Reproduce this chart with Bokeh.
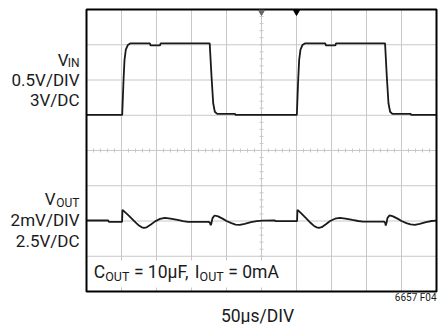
import numpy as np
from bokeh.plotting import figure
from bokeh.models import Label, Range1d, ColumnDataSource
from bokeh.embed import file_html
from bokeh.resources import INLINE

# ---- data (time in µs, 50 µs/div; levels in screen divisions, 8 div tall) ----
vin_t = [0, 51, 52.9, 54.3, 56.2, 59, 63, 90.5, 91.5, 105, 106, 176, 178.6, 181, 183.3, 186.7, 212, 213,
         300.5, 302.4, 303.8, 305.7, 308.5, 312.5, 341, 342, 355.5, 356.5, 426.5, 429, 431.4, 433.7, 437,
         463, 464, 500]
vin_v = [5.01, 5.01, 6.0, 6.57, 6.86, 6.99, 7.04, 7.04, 6.98, 6.98, 7.04, 7.04, 6.1, 5.34, 5.1, 5.04, 5.04, 5.01,
         5.01, 6.0, 6.57, 6.86, 6.99, 7.04, 7.04, 6.98, 6.98, 7.04, 7.04, 6.1, 5.34, 5.1, 5.04,
         5.04, 5.01, 5.01]

vout_t = [0, 31, 32, 50.8, 51.4, 55, 60, 65, 70, 75, 79, 82, 86, 92, 98, 105, 112, 120, 130, 138, 145, 160, 174,
          176, 177.5, 178.5, 180, 183, 188, 195, 200, 207, 213, 219, 226, 235, 243, 251,
          269, 270, 300.8, 301.4, 305, 310, 315, 320, 325, 329, 332, 336, 342, 348, 355, 362, 370, 380, 388,
          395, 410, 425, 426.5, 427.5, 428.5, 430, 433, 438, 445, 450, 457, 463, 469, 476, 485, 493, 500]
vout_v = [2.014, 2.014, 1.976, 1.976, 2.317, 2.25, 2.16, 2.06, 1.96, 1.87, 1.82, 1.806, 1.82, 1.9, 1.99, 2.06,
          2.09, 2.07, 2.03, 1.995, 1.975, 1.975, 1.975,
          1.96, 1.88, 1.94, 2.08, 2.156, 2.13, 2.06, 2.0, 1.94, 1.90, 1.89, 1.92, 1.97, 1.995, 2.01,
          2.014, 1.995, 1.995, 2.317, 2.25, 2.15, 2.05, 1.95, 1.86, 1.82, 1.806, 1.825, 1.91, 2.0, 2.065, 2.09,
          2.07, 2.03, 2.0, 1.985, 1.98, 1.98, 1.96, 1.87, 1.94, 2.09, 2.16, 2.13, 2.06, 2.0, 1.94, 1.905,
          1.89, 1.92, 1.97, 2.0, 2.01]

trig_t = [250, 300]
trig_colors = ["#666666", "#000000"]

x_grid = [50, 100, 150, 200, 250, 300, 350, 400, 450]
y_grid = [1, 2, 3, 4, 5, 6, 7]
T_MAX, V_MAX = 500, 8

FONT = "Roboto"
TXT = "#1a1a1a"
GRID = "#c8c8c8"

# canvas pixel <-> data helpers (plot box: x 86..436 px, y 9..291 px)
def tx(px):
    return (px - 86) / 0.7

def vy(py):
    return (291 - py) / 35.25

W, H = 438, 324
p = figure(width=W, height=H, x_range=Range1d(tx(0), tx(W)), y_range=Range1d(vy(H), vy(0)),
           x_axis_location=None, y_axis_location=None, toolbar_location=None,
           output_backend="svg", min_border=0)
p.background_fill_color = "white"
p.border_fill_color = "white"
p.outline_line_color = None
p.xgrid.visible = False
p.ygrid.visible = False

# grid
p.segment(x0=x_grid, y0=0, x1=x_grid, y1=V_MAX, line_color=GRID, line_width=1)
p.segment(x0=0, y0=y_grid, x1=T_MAX, y1=y_grid, line_color=GRID, line_width=1)

# minor ticks on the centre lines
dx = 2.9    # ~2 px in µs
dy = 0.057  # ~2 px in div
hx = np.arange(10, T_MAX, 10)
p.segment(x0=hx, y0=4 - dy, x1=hx, y1=4 + dy, line_color=GRID, line_width=1)
vv = np.arange(0.2, V_MAX, 0.2)
p.segment(x0=250 - dx, y0=vv, x1=250 + dx, y1=vv, line_color=GRID, line_width=1)

# white box behind the condition text
p.quad(left=[0], right=[tx(289)], bottom=[vy(287)], top=[vy(260)], fill_color="white", line_color=None)

# traces
p.line(vin_t, vin_v, line_color="#1a1a1a", line_width=1.8)
p.line(vout_t, vout_v, line_color="#1a1a1a", line_width=1.8)

# plot box
p.quad(left=[0], right=[T_MAX], bottom=[0], top=[V_MAX], fill_color=None, line_color="black", line_width=2)

# trigger markers
src = ColumnDataSource(dict(x=trig_t, y=[vy(11.5)] * 2, c=trig_colors))
p.scatter("x", "y", source=src, marker="inverted_triangle", size=6, fill_color="c", line_color="c")


def lab(px, py, text, size, align="right", color=TXT):
    # py = vertical centre of the capitals
    p.add_layout(Label(x=tx(px), y=vy(py), text=text, text_font=FONT, text_font_size=f"{size}px",
                       text_align=align, text_baseline="middle", text_color=color))


# VIN labels
lab(68, 59, "V", 17)
lab(79, 62.5, "IN", 12)
lab(79, 79, "0.5V/DIV", 17)
lab(79, 99.5, "3V/DC", 17)
# VOUT labels
lab(55, 198.5, "V", 17)
lab(79, 202.7, "OUT", 12)
lab(79, 219.5, "2mV/DIV", 17)
lab(79, 240.5, "2.5V/DC", 17)
# condition text
lab(93.3, 271.5, "C", 17.5, "left")
lab(104.7, 276, "OUT", 12.5, "left")
lab(133.4, 271.5, "= 10µF,", 17.5, "left")
lab(194.3, 271.5, "I", 17.5, "left")
lab(199.1, 276, "OUT", 12.5, "left")
lab(227.8, 271.5, "= 0mA", 17.5, "left")
# x scale and figure number
lab(257, 315, "50µs/DIV", 17.5, "center")
lab(436, 297, "6657 F04", 10, "right")

open("out.html", "w").write(file_html(p, INLINE))
